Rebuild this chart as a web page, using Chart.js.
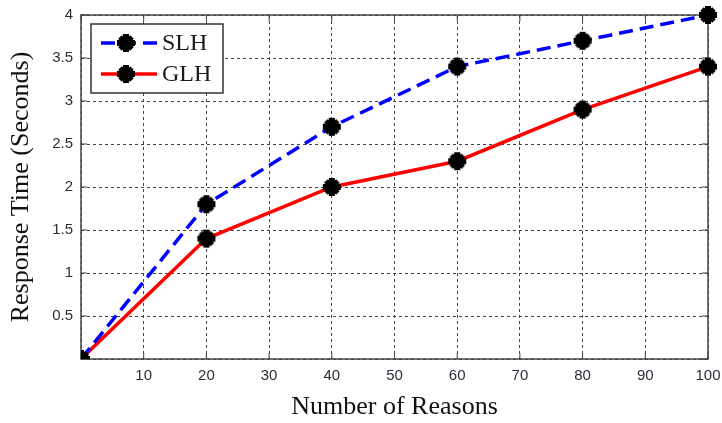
<!DOCTYPE html>
<html lang="en">
<head>
  <meta charset="UTF-8">
  <title>Response Time vs Number of Reasons</title>
  <script src="https://cdn.jsdelivr.net/npm/chart.js"></script>
  <style>
    body { margin: 0; background: #fff; }
    .chart-container { position: relative; width: 722px; height: 423px; }
  </style>
</head>
<body>
  <div class="chart-container">
    <canvas id="rtChart"></canvas>
  </div>

  <script>
    const reasons = [0, 20, 40, 60, 80, 100];
    const slhTimes = [0, 1.8, 2.7, 3.4, 3.7, 4.0];
    const glhTimes = [0, 1.4, 2.0, 2.3, 2.9, 3.4];

    // black "star" marker like the matlab one
    function makeMarker() {
      const c = document.createElement('canvas');
      c.width = 20; c.height = 20;
      const g = c.getContext('2d');
      g.fillStyle = '#000';
      g.beginPath(); g.arc(10, 10, 6.5, 0, Math.PI * 2); g.fill();
      g.fillRect(7, 1, 6, 18);
      g.fillRect(1, 7, 18, 6);
      g.save(); g.translate(10, 10); g.rotate(Math.PI / 4);
      g.fillRect(-2.5, -8.5, 5, 17);
      g.fillRect(-8.5, -2.5, 17, 5);
      g.restore();
      return c;
    }
    const marker = makeMarker();

    const frameAndLegend = {
      id: 'frameAndLegend',
      beforeDatasetsDraw(chart) {
        const { ctx, chartArea: a } = chart;
        ctx.save();
        // solid frame with inward ticks
        ctx.strokeStyle = '#444';
        ctx.lineWidth = 1.5;
        ctx.setLineDash([]);
        ctx.strokeRect(a.left, a.top, a.right - a.left, a.bottom - a.top);
        ctx.lineWidth = 1;
        const xs = chart.scales.x, ys = chart.scales.y;
        xs.ticks.forEach(t => {
          const px = xs.getPixelForValue(t.value);
          ctx.beginPath();
          ctx.moveTo(px, a.bottom); ctx.lineTo(px, a.bottom - 6);
          ctx.moveTo(px, a.top); ctx.lineTo(px, a.top + 6);
          ctx.stroke();
        });
        ys.ticks.forEach(t => {
          const py = ys.getPixelForValue(t.value);
          ctx.beginPath();
          ctx.moveTo(a.left, py); ctx.lineTo(a.left + 6, py);
          ctx.moveTo(a.right, py); ctx.lineTo(a.right - 6, py);
          ctx.stroke();
        });
        ctx.restore();
      },
      afterDatasetsDraw(chart) {
        const { ctx, chartArea: a } = chart;
        ctx.save();
        // legend box inside the plot
        const bx = a.left + 10, by = a.top + 9, bw = 132, bh = 69;
        ctx.fillStyle = '#fff';
        ctx.fillRect(bx, by, bw, bh);
        ctx.strokeStyle = '#333';
        ctx.lineWidth = 1.5;
        ctx.strokeRect(bx, by, bw, bh);
        chart.data.datasets.forEach((ds, i) => {
          const cy = by + 19 + i * 31;
          ctx.strokeStyle = ds.borderColor;
          ctx.lineWidth = 3.5;
          ctx.setLineDash(ds.borderDash || []);
          ctx.beginPath();
          ctx.moveTo(bx + 10, cy); ctx.lineTo(bx + 66, cy);
          ctx.stroke();
          ctx.setLineDash([]);
          ctx.drawImage(marker, bx + 35 - 10, cy - 10);
          ctx.fillStyle = '#1a1a1a';
          ctx.font = '24px "Liberation Serif", serif';
          ctx.textBaseline = 'middle';
          ctx.fillText(ds.label, bx + 71, cy + 1);
        });
        ctx.restore();
      }
    };

    const clipBox = { left: 0, bottom: 0, top: false, right: false };

    new Chart(document.getElementById('rtChart'), {
      type: 'line',
      data: {
        datasets: [
          {
            label: 'SLH',
            data: reasons.map((r, i) => ({ x: r, y: slhTimes[i] })),
            borderColor: '#0000ff',
            borderWidth: 3.5,
            borderDash: [14, 7],
            pointStyle: marker,
            fill: false,
            clip: clipBox,
            tension: 0
          },
          {
            label: 'GLH',
            data: reasons.map((r, i) => ({ x: r, y: glhTimes[i] })),
            borderColor: '#ff0000',
            borderWidth: 3.5,
            pointStyle: marker,
            fill: false,
            clip: clipBox,
            tension: 0
          }
        ]
      },
      options: {
        responsive: true,
        maintainAspectRatio: false,
        animation: false,
        layout: { padding: { left: 3, right: 14, top: 15, bottom: 0 } },
        plugins: {
          legend: { display: false },
          tooltip: { enabled: false }
        },
        scales: {
          x: {
            type: 'linear',
            min: 0, max: 100,
            afterFit: s => { s.height = 64; s.paddingRight = 0; s.paddingLeft = 0; },
            ticks: {
              stepSize: 10,
              padding: 8,
              color: '#2e2e3a',
              font: { family: '"Liberation Sans", Arial', size: 15 },
              callback: v => v === 0 ? '' : v
            },
            grid: { color: '#444', lineWidth: 1, drawTicks: false },
            border: { display: false, dash: [3, 3] },
            title: {
              display: true,
              text: 'Number of Reasons',
              color: '#111',
              font: { family: '"Liberation Serif", serif', size: 26 },
              padding: { top: 1, bottom: 0 }
            }
          },
          y: {
            min: 0, max: 4,
            afterFit: s => { s.width = 78; s.paddingTop = 0; s.paddingBottom = 0; },
            ticks: {
              stepSize: 0.5,
              padding: 8,
              color: '#2e2e3a',
              font: { family: '"Liberation Sans", Arial', size: 15 },
              callback: v => v === 0 ? '' : v
            },
            grid: { color: '#444', lineWidth: 1, drawTicks: false },
            border: { display: false, dash: [3, 3] },
            title: {
              display: true,
              text: 'Response Time (Seconds)',
              color: '#111',
              font: { family: '"Liberation Serif", serif', size: 26 },
              padding: { top: 3, bottom: 2 }
            }
          }
        }
      },
      plugins: [frameAndLegend]
    });
  </script>
</body>
</html>
